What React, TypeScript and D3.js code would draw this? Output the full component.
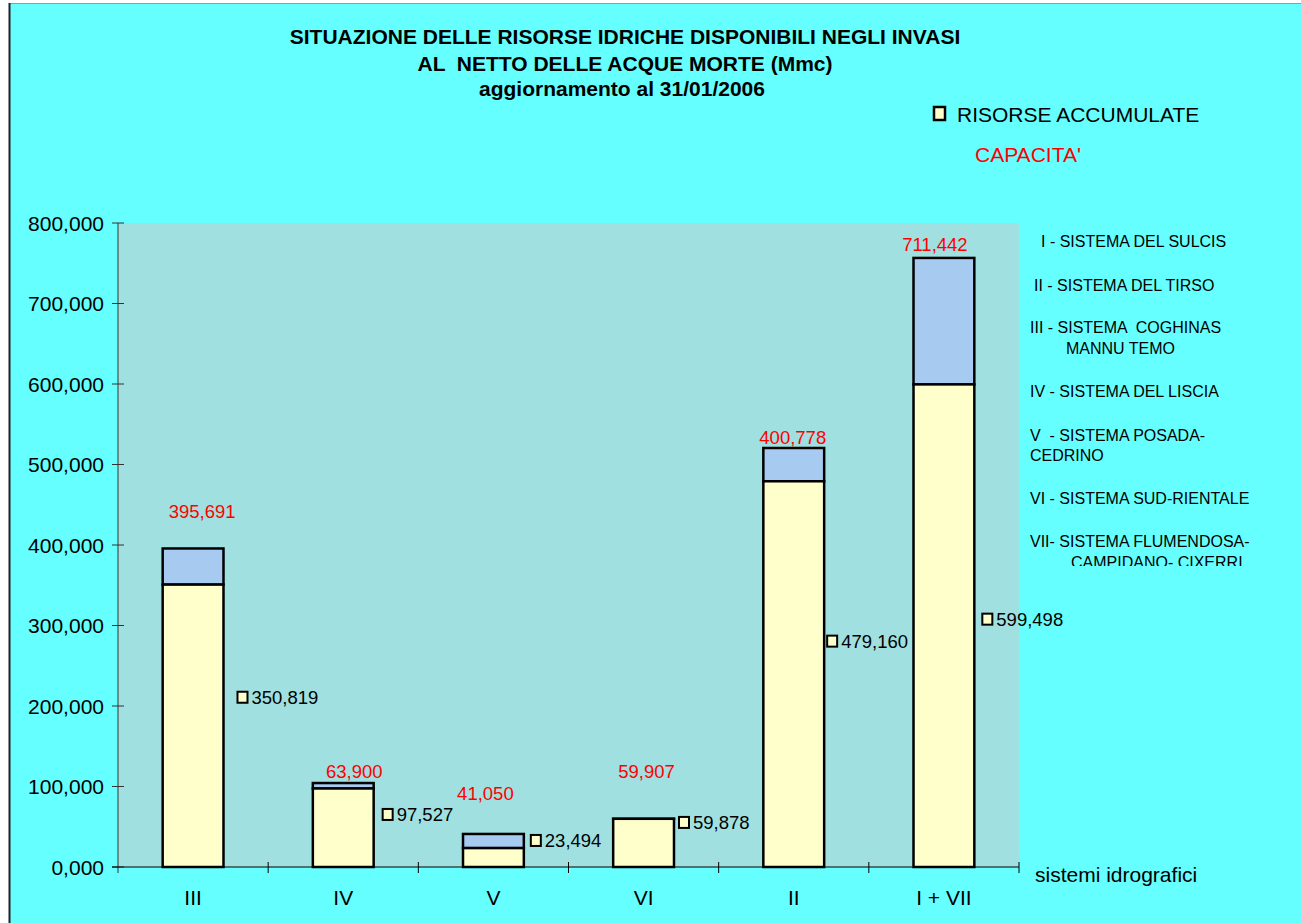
import React from 'react';
import * as d3 from 'd3';

// sistemi idrografici, in plotting order
const categories = ['III', 'IV', 'V', 'VI', 'II', 'I + VII'];
// risorse accumulate (Mmc)
const accumulated = [350.819, 97.527, 23.494, 59.878, 479.16, 599.498];
// capacita' (red labels)
const capacity = [395.691, 63.9, 41.05, 59.907, 400.778, 711.442];
// top of the blue segment as drawn in the original sheet
const stackTop = [395.691, 104.3, 41.05, 59.907, 520.5, 756.6];
const yTicks = [0, 100, 200, 300, 400, 500, 600, 700, 800];

// where Excel left the data labels (value units / px offsets)
const capLabelAt = [434, 110.7, 83.3, 110.7, 526, 765];
const capLabelDx = [9, 11, -8, 3, -1, -9];
const accLabelAt = [202.8, 57.2, 24.9, 47.3, 272.5, 299.8];
const accLabelDx = [13, 8, 6, 4, 2, 7];

const systems = [
  { text: 'I - SISTEMA DEL SULCIS', x: 1041, y: 247 },
  { text: 'II - SISTEMA DEL TIRSO', x: 1034, y: 291 },
  { text: 'III - SISTEMA  COGHINAS', x: 1030, y: 333 },
  { text: 'MANNU TEMO', x: 1066, y: 354 },
  { text: 'IV - SISTEMA DEL LISCIA', x: 1030, y: 397 },
  { text: 'V  - SISTEMA POSADA-', x: 1030, y: 441 },
  { text: 'CEDRINO', x: 1030, y: 461 },
  { text: 'VI - SISTEMA SUD-RIENTALE', x: 1030, y: 504 },
  { text: 'VII- SISTEMA FLUMENDOSA-', x: 1030, y: 547 },
  { text: 'CAMPIDANO- CIXERRI', x: 1071, y: 568 },
];

const it = d3.formatLocale({ decimal: ',', thousands: '.', grouping: [3], currency: ['', ''] });
const fmt = it.format('.3f');

const FONT = 'Liberation Sans, Arial, sans-serif';

const App = () => {
  const W = 1301;
  const H = 923;
  const left = 118;
  const right = 1019;
  const top = 223;
  const bottom = 867;

  const x = d3.scaleBand().domain(categories).range([left, right]).padding(0);
  const y = d3.scaleLinear().domain([0, 800]).range([bottom, top]);
  const barW = x.bandwidth() * 0.405;
  const cx = (c) => x(c) + x.bandwidth() / 2;

  return (
    <svg width={W} height={H} style={{ position: 'absolute', left: 0, top: 0 }} fontFamily={FONT}>
      <defs>
        <clipPath id="sysclip">
          <rect x={1020} y={225} width={280} height={341} />
        </clipPath>
      </defs>
      <rect x={0} y={0} width={W} height={H} fill="#fff" />
      <rect x={10} y={4} width={W - 10} height={H - 4} fill="#66FFFF" />
      <line x1={9} x2={W} y1={3.5} y2={3.5} stroke="#999" strokeWidth={1} />
      <line x1={9.5} x2={9.5} y1={3} y2={H} stroke="#222" strokeWidth={2} />

      {/* title */}
      <g textAnchor="middle" fontWeight="bold" fontSize={21} fill="#000">
        <text x={625} y={44} xmlSpace="preserve">SITUAZIONE DELLE RISORSE IDRICHE DISPONIBILI NEGLI INVASI</text>
        <text x={625} y={71} xmlSpace="preserve">AL  NETTO DELLE ACQUE MORTE (Mmc)</text>
        <text x={622} y={96} xmlSpace="preserve">aggiornamento al 31/01/2006</text>
      </g>

      {/* legend */}
      <rect x={934} y={107} width={11} height={13} fill="#FFFFCC" stroke="#000" strokeWidth={2.5} />
      <text x={957} y={122} fontSize={21}>RISORSE ACCUMULATE</text>
      <text x={975} y={162} fontSize={21} fill="#FF0000">CAPACITA'</text>

      {/* plot area */}
      <rect x={left} y={top} width={right - left} height={bottom - top} fill="#A0E0E0" />

      {/* y axis */}
      <line x1={left} x2={left} y1={top} y2={bottom + 6} stroke="#333" strokeWidth={1} />
      {yTicks.map((t) => (
        <g key={t}>
          <line x1={left - 6} x2={left + 6} y1={y(t)} y2={y(t)} stroke="#333" strokeWidth={1} />
          <text x={104} y={y(t) + 7.5} textAnchor="end" fontSize={21}>
            {fmt(t)}
          </text>
        </g>
      ))}

      {/* bars */}
      {categories.map((c, i) => (
        <g key={c}>
          <rect
            x={cx(c) - barW / 2}
            y={y(stackTop[i])}
            width={barW}
            height={y(accumulated[i]) - y(stackTop[i])}
            fill="#A6CAF0"
            stroke="#000"
            strokeWidth={2.5}
          />
          <rect
            x={cx(c) - barW / 2}
            y={y(accumulated[i])}
            width={barW}
            height={y(0) - y(accumulated[i])}
            fill="#FFFFCC"
            stroke="#000"
            strokeWidth={2.5}
          />
        </g>
      ))}

      {/* x axis */}
      <line x1={left - 6} x2={right} y1={bottom} y2={bottom} stroke="#000" strokeWidth={1} />
      {categories.map((c) => (
        <line key={c} x1={x(c) + x.bandwidth()} x2={x(c) + x.bandwidth()} y1={bottom - 5} y2={bottom + 6} stroke="#000" />
      ))}
      {categories.map((c) => (
        <text key={c} x={cx(c)} y={905} textAnchor="middle" fontSize={21}>
          {c}
        </text>
      ))}
      <text x={1035} y={882} fontSize={21}>sistemi idrografici</text>

      {/* capacity labels */}
      {categories.map((c, i) => (
        <text key={c} x={cx(c) + capLabelDx[i]} y={y(capLabelAt[i])} textAnchor="middle" fontSize={18.5} fill="#FF0000">
          {fmt(capacity[i])}
        </text>
      ))}

      {/* accumulated labels */}
      {categories.map((c, i) => {
        const x0 = cx(c) + barW / 2 + accLabelDx[i];
        const by = y(accLabelAt[i]);
        return (
          <g key={c}>
            <rect x={x0 + 1} y={by - 12} width={10} height={11} fill="#FFFFCC" stroke="#000" strokeWidth={2} />
            <text x={x0 + 15} y={by} fontSize={18.5}>
              {fmt(accumulated[i])}
            </text>
          </g>
        );
      })}

      {/* systems list */}
      <g clipPath="url(#sysclip)" fontSize={16}>
        {systems.map((s) => (
          <text key={s.text} x={s.x} y={s.y} xmlSpace="preserve">
            {s.text}
          </text>
        ))}
      </g>
    </svg>
  );
};

export default App;
